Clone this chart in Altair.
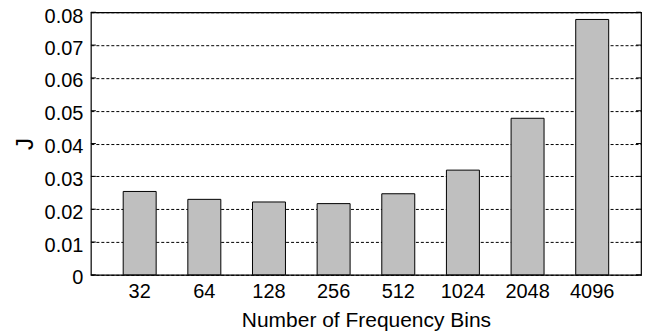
import altair as alt
import pandas as pd

bins = ["32", "64", "128", "256", "512", "1024", "2048", "4096"]
j_values = [0.0254, 0.0230, 0.0222, 0.0217, 0.0247, 0.0319, 0.0477, 0.0778]
y_ticks = [0, 0.01, 0.02, 0.03, 0.04, 0.05, 0.06, 0.07, 0.08]

W, H = 551, 263
FONT = "Liberation Sans"

df = pd.DataFrame({"bins": bins, "J": j_values})
tdf = pd.DataFrame({"t": y_ticks})

yscale = alt.Scale(domain=[0, 0.08], nice=False, zero=True)

yaxis = alt.Axis(
    title="J",
    values=y_ticks,
    labelExpr="datum.value == 0 ? '0' : format(datum.value, '.2f')",
    labelOverlap=False,
    labelFlush=False,
    labelOffset={"condition": {"test": "datum.value >= 0.08", "value": 4}, "value": 3},
    ticks=False,
    tickSize=0,
    domain=False,
    grid=True,
    gridColor="black",
    gridDash=[3, 2],
    gridWidth=1,
    gridOpacity=1,
    labelFontSize=20,
    titleFontSize=24,
    labelPadding=8,
    titlePadding=7,
    labelColor="black",
    titleColor="black",
    titleFontWeight="normal",
    labelFont=FONT,
    titleFont=FONT,
)

bars = alt.Chart(df).mark_bar(color="#bfbfbf", stroke="black", strokeWidth=1).encode(
    x=alt.X(
        "bins:N",
        sort=bins,
        scale=alt.Scale(paddingInner=0.49, paddingOuter=0.5),
        axis=alt.Axis(
            title="Number of Frequency Bins",
            labelAngle=0,
            ticks=False,
            tickSize=0,
            domain=False,
            labelOverlap=False,
            labelFontSize=20,
            titleFontSize=21,
            labelPadding=7,
            titlePadding=8,
            labelColor="black",
            titleColor="black",
            titleFontWeight="normal",
            labelFont=FONT,
            titleFont=FONT,
        ),
    ),
    y=alt.Y("J:Q", scale=yscale, axis=yaxis, title="J"),
)

left_ticks = alt.Chart(tdf).mark_rule(color="black", strokeWidth=1).encode(
    y=alt.Y("t:Q", scale=yscale, axis=yaxis, title="J"), x=alt.value(0), x2=alt.value(5)
)
right_ticks = alt.Chart(tdf).mark_rule(color="black", strokeWidth=1).encode(
    y=alt.Y("t:Q", scale=yscale, axis=yaxis, title="J"), x=alt.value(W - 5), x2=alt.value(W)
)

chart = (
    alt.layer(bars, left_ticks, right_ticks)
    .properties(
        width=W,
        height=H,
        autosize="none",
        padding={"left": 83, "top": 4, "right": 14, "bottom": 61},
    )
    .configure_view(stroke="black", strokeWidth=1.2)
)

chart.save("out.html", embed_options={"renderer": "svg", "actions": False})
